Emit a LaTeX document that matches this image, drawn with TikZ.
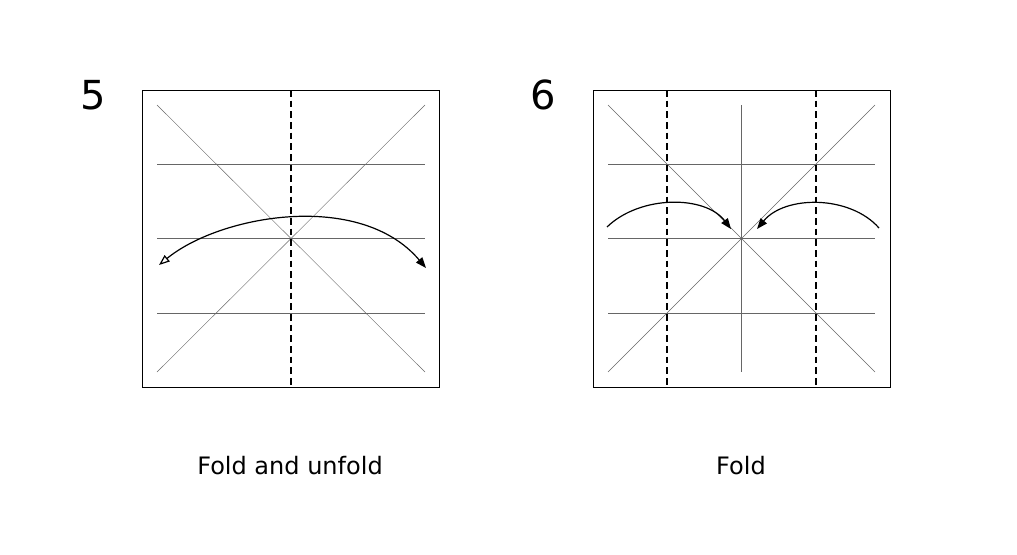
\documentclass[tikz,border=0pt]{standalone}
\usepackage{fontspec}
\setmainfont{DejaVu Sans}
\usetikzlibrary{arrows.meta}
\tikzset{
  paper/.style={draw, line width=0.6pt},
  crease/.style={draw, line width=0.3pt, gray!80!black},
  valley/.style={draw, dashed, line width=0.9pt, dash pattern=on 5pt off 3pt},
  foldarrow/.style={line width=0.9pt, -{Triangle[length=8pt,width=6pt]}},
  steplabel/.style={font=\fontsize{30}{30}\selectfont, inner sep=0pt},
  caption/.style={font=\fontsize{18}{18}\selectfont, inner sep=0pt}
}
\begin{document}
\begin{tikzpicture}[x=0.75pt, y=-0.75pt]
\useasboundingbox (0,0) rectangle (1017,554);

% step 5
\draw[paper] (142,90) rectangle (439,387);
\draw[crease] (157,105) -- (425,372) (157,372) -- (425,105);
\foreach \y in {164,238,313} \draw[crease] (157,\y) -- (425,\y);
\draw[valley] (291,90) -- (291,387);
\coordinate (l5) at (159,265);
\coordinate (r5) at (426,268);
\draw[foldarrow, {Triangle[open,length=8pt,width=6pt]}-{Triangle[length=8pt,width=6pt]}] (l5) .. controls (220,215) and (360,190) .. (r5);
\node[steplabel] (n5) at (93,95) {5};
\node[caption] (c5) at (290,466) {Fold and unfold};

% step 6
\draw[paper] (593,90) rectangle (890,387);
\draw[crease] (608,105) -- (875,372) (608,372) -- (875,105);
\foreach \y in {164,238,313} \draw[crease] (608,\y) -- (875,\y);
\draw[crease] (741,105) -- (741,372);
\foreach \x in {667,816} \draw[valley] (\x,90) -- (\x,387);
\coordinate (a1) at (607,227);
\coordinate (b1) at (731,229);
\coordinate (a2) at (879,228);
\coordinate (b2) at (757,229);
\draw[foldarrow] (a1) .. controls (640,195) and (705,195) .. (b1);
\draw[foldarrow] (a2) .. controls (850,195) and (785,195) .. (b2);
\node[steplabel] (n6) at (543,95) {6};
\node[caption] (c6) at (741,466) {Fold};
\end{tikzpicture}
\end{document}
